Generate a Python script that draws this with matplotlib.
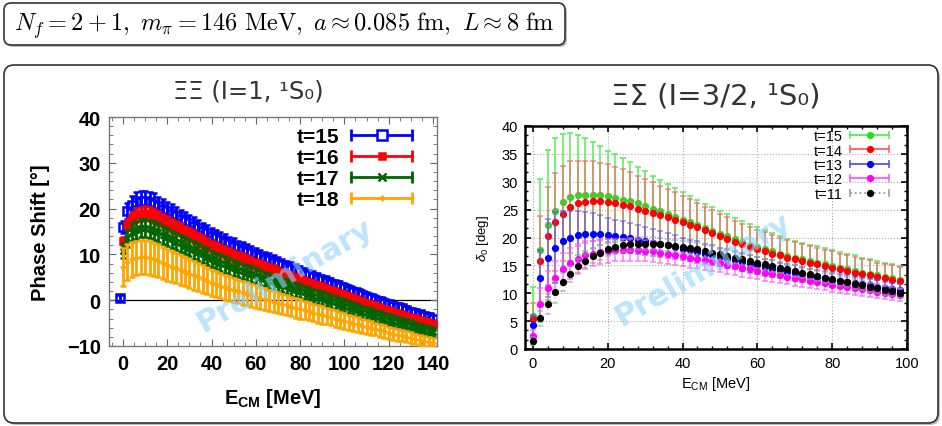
import matplotlib
matplotlib.use("Agg")
import matplotlib.pyplot as plt
from matplotlib.patches import FancyBboxPatch
from matplotlib.lines import Line2D
from matplotlib.legend_handler import HandlerLine2D
from matplotlib.ticker import MultipleLocator

plt.rcParams["mathtext.fontset"] = "custom"
plt.rcParams["mathtext.rm"] = "Liberation Sans"
plt.rcParams["mathtext.bf"] = "Liberation Sans:bold"
plt.rcParams["mathtext.it"] = "Liberation Sans:italic"

# ---------------- Xi-Xi (I=1) phase shifts ----------------
e_left = [0, 2, 4, 6, 8, 10, 12, 14, 16, 18,
          20, 22, 24, 26, 28, 30, 32, 34, 36, 38,
          40, 42, 44, 46, 48, 50, 52, 54, 56, 58,
          60, 62, 64, 66, 68, 70, 72, 74, 76, 78,
          80, 82, 84, 86, 88, 90, 92, 94, 96, 98,
          100, 102, 104, 106, 108, 110, 112, 114, 116, 118,
          120, 122, 124, 126, 128, 130, 132, 134, 136, 138,
          140]

# t=15 has one extra point just below threshold
t15_first_e, t15_first_d, t15_first_err = -1.4, 0.5, 0.6

t15_d = [16.0, 19.5, 20.8, 21.4, 21.7, 21.7, 21.4, 21.1, 20.5, 20.0,
         19.4, 18.9, 18.4, 17.8, 17.3, 16.8, 16.3, 15.7, 15.1, 14.6,
         14.0, 13.6, 13.1, 12.7, 12.2, 11.8, 11.4, 11.0, 10.6, 10.3,
         9.9, 9.5, 9.1, 8.7, 8.3, 8.0, 7.6, 7.2, 6.9, 6.5,
         6.1, 5.8, 5.4, 5.1, 4.7, 4.4, 4.0, 3.6, 3.3, 2.9,
         2.6, 2.2, 1.8, 1.5, 1.1, 0.8, 0.4, 0.1, -0.2, -0.6,
         -0.9, -1.2, -1.5, -1.8, -2.2, -2.5, -2.8, -3.1, -3.4, -3.7,
         -4.0]
t15_err = [1.3, 1.8, 2.0, 2.2, 2.2, 2.2, 2.2, 2.2, 2.1, 2.1,
           2.1, 2.0, 2.0, 2.0, 1.9, 1.9, 1.9, 1.9, 1.8, 1.8,
           1.8, 1.8, 1.7, 1.7, 1.7, 1.7, 1.6, 1.6, 1.6, 1.6,
           1.6, 1.5, 1.5, 1.5, 1.5, 1.4, 1.4, 1.4, 1.4, 1.4,
           1.3, 1.3, 1.3, 1.3, 1.3, 1.2, 1.2, 1.2, 1.2, 1.2,
           1.1, 1.1, 1.1, 1.1, 1.1, 1.0, 1.0, 1.0, 1.0, 1.0,
           0.9, 0.9, 0.9, 0.9, 0.9, 0.9, 0.8, 0.8, 0.8, 0.8,
           0.8]

t16_d = [13.0, 16.5, 17.9, 18.6, 18.9, 19.0, 18.8, 18.4, 17.9, 17.4,
         16.8, 16.3, 15.8, 15.4, 14.9, 14.4, 13.9, 13.3, 12.8, 12.2,
         11.7, 11.3, 10.9, 10.5, 10.1, 9.6, 9.3, 8.9, 8.6, 8.2,
         7.8, 7.5, 7.1, 6.7, 6.4, 6.0, 5.7, 5.3, 5.0, 4.6,
         4.3, 4.0, 3.6, 3.3, 2.9, 2.6, 2.3, 1.9, 1.6, 1.2,
         0.9, 0.6, 0.2, -0.1, -0.5, -0.8, -1.1, -1.4, -1.8, -2.1,
         -2.4, -2.7, -3.0, -3.3, -3.6, -3.8, -4.1, -4.4, -4.7, -5.0,
         -5.3]
t16_err = [0.9, 1.2, 1.4, 1.5, 1.5, 1.5, 1.5, 1.5, 1.5, 1.5,
           1.5, 1.4, 1.4, 1.4, 1.4, 1.4, 1.4, 1.4, 1.4, 1.3,
           1.3, 1.3, 1.3, 1.3, 1.3, 1.3, 1.3, 1.3, 1.2, 1.2,
           1.2, 1.2, 1.2, 1.2, 1.2, 1.2, 1.2, 1.1, 1.1, 1.1,
           1.1, 1.1, 1.1, 1.1, 1.1, 1.1, 1.0, 1.0, 1.0, 1.0,
           1.0, 1.0, 1.0, 1.0, 1.0, 0.9, 0.9, 0.9, 0.9, 0.9,
           0.9, 0.9, 0.9, 0.9, 0.8, 0.8, 0.8, 0.8, 0.8, 0.8,
           0.8]

t17_d = [10.8, 13.5, 14.8, 15.4, 15.7, 15.8, 15.6, 15.2, 14.8, 14.3,
         13.8, 13.3, 12.8, 12.4, 11.9, 11.5, 11.0, 10.5, 10.0, 9.5,
         9.0, 8.6, 8.2, 7.8, 7.4, 7.0, 6.7, 6.3, 6.0, 5.7,
         5.3, 5.0, 4.6, 4.3, 3.9, 3.6, 3.3, 3.0, 2.6, 2.3,
         2.0, 1.7, 1.4, 1.0, 0.7, 0.4, 0.1, -0.2, -0.5, -0.9,
         -1.2, -1.5, -1.8, -2.1, -2.5, -2.8, -3.1, -3.4, -3.7, -4.0,
         -4.3, -4.5, -4.8, -5.1, -5.4, -5.6, -5.9, -6.2, -6.5, -6.7,
         -7.0]
t17_err = [1.6, 1.9, 2.0, 2.0, 2.0, 2.0, 2.0, 2.0, 2.0, 2.0,
           2.0, 1.9, 1.9, 1.9, 1.9, 1.9, 1.9, 1.9, 1.8, 1.8,
           1.8, 1.8, 1.8, 1.8, 1.8, 1.7, 1.7, 1.7, 1.7, 1.7,
           1.7, 1.7, 1.6, 1.6, 1.6, 1.6, 1.6, 1.6, 1.6, 1.5,
           1.5, 1.5, 1.5, 1.5, 1.5, 1.5, 1.4, 1.4, 1.4, 1.4,
           1.4, 1.4, 1.4, 1.3, 1.3, 1.3, 1.3, 1.3, 1.3, 1.3,
           1.2, 1.2, 1.2, 1.2, 1.2, 1.2, 1.1, 1.1, 1.1, 1.1,
           1.1]

t18_d = [7.2, 8.4, 8.9, 9.2, 9.4, 9.4, 9.2, 8.9, 8.6, 8.2,
         7.7, 7.3, 7.0, 6.6, 6.2, 5.8, 5.4, 5.0, 4.6, 4.2,
         3.8, 3.5, 3.2, 2.8, 2.5, 2.2, 1.9, 1.6, 1.4, 1.1,
         0.8, 0.5, 0.2, 0.0, -0.3, -0.6, -0.9, -1.1, -1.4, -1.7,
         -1.9, -2.2, -2.4, -2.7, -3.0, -3.2, -3.5, -3.7, -4.0, -4.3,
         -4.5, -4.8, -5.1, -5.3, -5.6, -5.8, -6.1, -6.3, -6.6, -6.8,
         -7.1, -7.3, -7.5, -7.7, -8.0, -8.2, -8.4, -8.6, -8.9, -9.1,
         -9.3]
t18_err = [4.1, 3.9, 3.9, 3.8, 3.7, 3.7, 3.7, 3.6, 3.6, 3.5,
           3.5, 3.4, 3.3, 3.3, 3.2, 3.2, 3.1, 3.1, 3.0, 2.9,
           2.9, 2.8, 2.8, 2.8, 2.7, 2.7, 2.6, 2.6, 2.5, 2.5,
           2.5, 2.4, 2.4, 2.3, 2.3, 2.3, 2.2, 2.2, 2.1, 2.1,
           2.1, 2.0, 2.0, 1.9, 1.9, 1.9, 1.8, 1.8, 1.8, 1.7,
           1.7, 1.6, 1.6, 1.6, 1.5, 1.5, 1.5, 1.4, 1.4, 1.4,
           1.3, 1.3, 1.3, 1.2, 1.2, 1.2, 1.1, 1.1, 1.1, 1.0,
           1.0]

# ---------------- Xi-Sigma (I=3/2) phase shifts ----------------
e_right = [0, 2, 4, 6, 8, 10, 12, 14, 16, 18,
           20, 22, 24, 26, 28, 30, 32, 34, 36, 38,
           40, 42, 44, 46, 48, 50, 52, 54, 56, 58,
           60, 62, 64, 66, 68, 70, 72, 74, 76, 78,
           80, 82, 84, 86, 88, 90, 92, 94, 96, 98]

s15_d = [6.0, 17.7, 22.2, 24.8, 26.3, 27.2, 27.6, 27.7, 27.7, 27.6,
         27.4, 27.1, 26.8, 26.5, 26.1, 25.7, 25.2, 24.7, 24.2, 23.7,
         23.2, 22.7, 22.2, 21.7, 21.2, 20.7, 20.2, 19.7, 19.2, 18.7,
         18.3, 17.9, 17.5, 17.1, 16.7, 16.4, 16.1, 15.8, 15.5, 15.2,
         14.9, 14.6, 14.3, 14.0, 13.7, 13.4, 13.2, 12.9, 12.7, 12.4]
s15_err = [5.2, 12.8, 13.5, 13.0, 12.3, 11.5, 10.7, 10.1, 9.5, 8.9,
           8.2, 7.9, 7.4, 7.0, 6.6, 6.2, 5.9, 5.7, 5.4, 5.2,
           5.0, 4.8, 4.5, 4.3, 4.2, 4.1, 4.0, 3.8, 3.8, 3.7,
           3.5, 3.5, 3.3, 3.1, 3.1, 3.0, 3.0, 2.9, 2.9, 2.9,
           2.9, 2.8, 2.8, 2.8, 2.7, 2.7, 2.6, 2.6, 2.5, 2.5]

s14_d = [5.3, 15.8, 20.3, 22.8, 24.3, 25.5, 26.1, 26.4, 26.5, 26.5,
         26.4, 26.2, 25.9, 25.6, 25.2, 24.8, 24.4, 24.0, 23.6, 23.2,
         22.8, 22.3, 21.8, 21.3, 20.8, 20.2, 19.7, 19.2, 18.8, 18.3,
         17.9, 17.5, 17.1, 16.8, 16.4, 16.1, 15.8, 15.5, 15.2, 14.9,
         14.6, 14.3, 14.0, 13.7, 13.4, 13.2, 12.9, 12.7, 12.4, 12.2]
s14_err = [3.0, 8.1, 8.8, 8.8, 8.6, 8.2, 7.7, 7.4, 7.2, 6.9,
           6.7, 6.5, 6.3, 6.1, 5.9, 5.7, 5.5, 5.3, 5.1, 4.9,
           4.7, 4.6, 4.4, 4.2, 4.1, 4.0, 3.9, 3.8, 3.7, 3.6,
           3.5, 3.4, 3.3, 3.2, 3.2, 3.1, 3.1, 3.0, 3.0, 2.9,
           2.9, 2.8, 2.8, 2.8, 2.7, 2.7, 2.6, 2.6, 2.6, 2.5]

s13_d = [4.3, 12.8, 16.3, 18.2, 19.4, 20.0, 20.4, 20.6, 20.6, 20.6,
         20.5, 20.3, 20.1, 19.9, 19.6, 19.4, 19.1, 18.8, 18.6, 18.3,
         18.0, 17.7, 17.4, 17.1, 16.8, 16.5, 16.2, 15.9, 15.6, 15.3,
         15.0, 14.7, 14.4, 14.1, 13.9, 13.6, 13.4, 13.1, 12.9, 12.7,
         12.4, 12.2, 12.0, 11.8, 11.6, 11.4, 11.2, 11.0, 10.8, 10.6]
s13_err = [1.8, 5.0, 7.0, 6.3, 5.4, 4.8, 4.3, 4.0, 3.8, 3.4,
           3.0, 2.9, 2.8, 2.7, 2.6, 2.5, 2.4, 2.3, 2.2, 2.1,
           2.0, 1.9, 1.9, 1.8, 1.8, 1.7, 1.7, 1.6, 1.6, 1.6,
           1.5, 1.5, 1.5, 1.4, 1.4, 1.4, 1.3, 1.3, 1.3, 1.3,
           1.2, 1.2, 1.2, 1.2, 1.1, 1.1, 1.1, 1.1, 1.0, 1.0]

s12_d = [2.4, 8.1, 11.0, 12.8, 14.3, 15.4, 16.2, 16.8, 17.1, 17.4,
         17.6, 17.7, 17.8, 17.8, 17.7, 17.6, 17.5, 17.3, 17.1, 16.9,
         16.7, 16.4, 16.2, 15.9, 15.7, 15.4, 15.1, 14.8, 14.5, 14.3,
         14.0, 13.7, 13.5, 13.2, 13.0, 12.7, 12.5, 12.2, 12.0, 11.8,
         11.5, 11.3, 11.1, 10.9, 10.7, 10.5, 10.3, 10.1, 9.9, 9.7]
s12_err = [1.0, 2.8, 3.0, 3.0, 2.9, 2.8, 2.6, 2.5, 2.3, 2.2,
           2.1, 2.0, 2.0, 2.0, 2.0, 1.9, 1.9, 1.9, 1.9, 1.8,
           1.8, 1.8, 1.7, 1.7, 1.7, 1.6, 1.6, 1.6, 1.6, 1.5,
           1.5, 1.5, 1.5, 1.4, 1.4, 1.4, 1.4, 1.3, 1.3, 1.3,
           1.3, 1.3, 1.2, 1.2, 1.2, 1.2, 1.2, 1.2, 1.1, 1.1]

s11_d = [1.5, 5.5, 8.1, 10.2, 12.0, 13.4, 14.8, 15.8, 16.7, 17.3,
         17.9, 18.3, 18.6, 18.8, 18.9, 18.9, 18.9, 18.8, 18.6, 18.5,
         18.3, 18.1, 17.9, 17.6, 17.3, 17.0, 16.7, 16.4, 16.1, 15.8,
         15.5, 15.2, 14.9, 14.6, 14.3, 14.0, 13.7, 13.4, 13.1, 12.8,
         12.5, 12.2, 12.0, 11.7, 11.4, 11.1, 10.9, 10.6, 10.4, 10.0]
s11_err = [0.6, 1.3, 1.8, 2.0, 1.6, 1.4, 1.4, 1.3, 1.3, 1.3,
           1.2, 1.2, 1.2, 1.2, 1.2, 1.2, 1.2, 1.1, 1.1, 1.1,
           1.1, 1.1, 1.1, 1.1, 1.1, 1.0, 1.0, 1.0, 1.0, 1.0,
           1.0, 1.0, 1.0, 1.0, 1.0, 1.0, 0.9, 0.9, 0.9, 0.9,
           0.9, 0.9, 0.9, 0.9, 0.9, 0.9, 0.9, 0.9, 0.9, 0.9]

W, H = 9.42, 4.27
fig = plt.figure(figsize=(W, H), dpi=100)


def box(x0, y0, x1, y1, r):
    # rounded frame given in pixel corners (top-left origin)
    sh = FancyBboxPatch((x0 / 100 + 0.02, H - y1 / 100 - 0.02), (x1 - x0) / 100, (y1 - y0) / 100,
                        boxstyle=f"round,pad=0,rounding_size={r}", transform=fig.dpi_scale_trans,
                        fc="#bbbbbb", ec="none", zorder=-3)
    fr = FancyBboxPatch((x0 / 100, H - y1 / 100), (x1 - x0) / 100, (y1 - y0) / 100,
                        boxstyle=f"round,pad=0,rounding_size={r}", transform=fig.dpi_scale_trans,
                        fc="white", ec="#333333", lw=1.2, zorder=-2)
    fig.patches.extend([sh, fr])


box(4, 4, 565, 46, 0.07)
box(4, 66, 938, 424, 0.1)

fig.text(284 / 942, 1 - 26 / 427,
         r"$N_f = 2+1,\ m_\pi = 146\ \mathrm{MeV},\ a \approx 0.085\ \mathrm{fm},\ L \approx 8\ \mathrm{fm}$",
         math_fontfamily="cm", fontsize=17.5, ha="center", va="center")

# ---------------- left panel ----------------
ax1 = fig.add_axes([109 / 942, 1 - 347 / 427, 328 / 942, 229 / 427])
ax1.axhline(0, color="black", lw=0.9, zorder=1)

left_series = [
    ("t=15", [t15_first_e] + e_left, [t15_first_d] + t15_d, [t15_first_err] + t15_err,
     "#0000ff", "s", 6, "none"),
    ("t=16", e_left, t16_d, t16_err, "#ff0000", "s", 4.5, "#ff0000"),
    ("t=17", e_left, t17_d, t17_err, "#006400", "x", 5, "#006400"),
    ("t=18", e_left, t18_d, t18_err, "#ffa500", "+", 4, "#ffa500"),
]
handles, hmap = [], {}
for i, (lab, e, d, err, c, m, ms, mfc) in enumerate(left_series):
    ax1.errorbar(e, d, yerr=err, fmt=m, color=c, ms=ms, mfc=mfc, mew=1.8,
                 elinewidth=2.0, capsize=2.4, capthick=2.0, zorder=2 + i)
    caps = Line2D([], [], color=c, lw=2.0, marker="|", ms=8, mew=2.0)
    mk = Line2D([], [], color=c, ls="none", marker=m, ms=ms + 0.5,
                mfc="white" if mfc == "none" else mfc, mew=1.8)
    hmap[caps] = HandlerLine2D(numpoints=2)
    hmap[mk] = HandlerLine2D(numpoints=1)
    handles.append((caps, mk))

ax1.set_xlim(-6.3, 141.8)
ax1.set_ylim(-10, 40)
ax1.xaxis.set_major_locator(MultipleLocator(20))
ax1.xaxis.set_minor_locator(MultipleLocator(5))
ax1.yaxis.set_major_locator(MultipleLocator(10))
ax1.yaxis.set_minor_locator(MultipleLocator(2))
ax1.tick_params(which="both", direction="in", top=True, right=True, color="#666666")
ax1.tick_params(which="major", length=5, pad=6)
ax1.tick_params(which="minor", length=3)
for sp in ax1.spines.values():
    sp.set_color("#777777")
    sp.set_linewidth(1.0)
for lbl in ax1.get_xticklabels() + ax1.get_yticklabels():
    lbl.set_fontfamily("Liberation Sans")
    lbl.set_fontweight("bold")
    lbl.set_fontsize(14.5)
ax1.set_xlabel(r"$\mathbf{E}_{\mathbf{CM}}$ [MeV]", fontfamily="Liberation Sans",
               fontweight="bold", fontsize=14.5, labelpad=9)
ax1.set_ylabel("Phase Shift [°]", fontfamily="Liberation Sans", fontweight="bold",
               fontsize=14.5, labelpad=12)
ax1.set_title("ΞΞ (I=1, ¹S₀)", fontsize=17.5, color="#333333", pad=14, x=0.424)
leg1 = ax1.legend(handles, ["t=15", "t=16", "t=17", "t=18"], handler_map=hmap,
                  loc="upper right", bbox_to_anchor=(0.955, 0.975), borderaxespad=0,
                  frameon=False, markerfirst=False, handlelength=3.5, handletextpad=0.3,
                  labelspacing=0.1, borderpad=0.2,
                  prop={"family": "Liberation Sans", "weight": "bold", "size": 15})

# ---------------- right panel ----------------
ax2 = fig.add_axes([525 / 942, 1 - 350 / 427, 382 / 942, 223 / 427])
ax2.grid(True, which="major", color="#aaaaaa", ls=":", lw=0.8)
ax2.set_axisbelow(True)

right_series = [
    ("t=15", s15_d, s15_err, "#22dd22", "#55ee55", 1.0),
    ("t=14", s14_d, s14_err, "#ff0000", "#ff6060", 0.75),
    ("t=13", s13_d, s13_err, "#0000ff", "#5050ff", 0.65),
    ("t=12", s12_d, s12_err, "#ff00ff", "#ff55ff", 0.75),
    ("t=11", s11_d, s11_err, "#000000", "#999999", 0.6),
]
handles2, hmap2 = [], {}
for i, (lab, d, err, c, ec, a) in enumerate(right_series):
    ls = ":" if lab == "t=11" else "-"
    eb = ax2.errorbar(e_right, d, yerr=err, fmt="o", color=c, ecolor=ec, ms=4.2,
                      elinewidth=1.1, capsize=2.2, capthick=1.1, zorder=2 + i)
    for art in eb[1] + eb[2]:
        art.set_alpha(a)
    eb[2][0].set_linestyle(ls)
    caps = Line2D([], [], color=ec, lw=1.3, marker="|", ms=6, mew=1.1, ls=ls)
    mk = Line2D([], [], color=c, ls="none", marker="o", ms=4.2)
    hmap2[caps] = HandlerLine2D(numpoints=2)
    hmap2[mk] = HandlerLine2D(numpoints=1)
    handles2.append((caps, mk))

ax2.set_xlim(-2.1, 100)
ax2.set_ylim(0, 40)
ax2.xaxis.set_major_locator(MultipleLocator(20))
ax2.xaxis.set_minor_locator(MultipleLocator(4))
ax2.yaxis.set_major_locator(MultipleLocator(5))
ax2.yaxis.set_minor_locator(MultipleLocator(5 / 3))
ax2.tick_params(which="both", direction="in", top=True, right=True)
ax2.tick_params(which="major", length=4, width=1.2, pad=5, labelsize=10.5)
ax2.tick_params(which="minor", length=2, width=1.0)
for sp in ax2.spines.values():
    sp.set_linewidth(1.8)
for lbl in ax2.get_xticklabels() + ax2.get_yticklabels():
    lbl.set_fontfamily("Liberation Sans")
ax2.set_xlabel(r"$\mathrm{E}_{\mathrm{CM}}$ [MeV]", fontfamily="Liberation Sans",
               fontsize=10.5, labelpad=3)
ax2.set_ylabel(r"$\delta_0$ [deg]", fontfamily="Liberation Sans", fontsize=9.5, labelpad=8)
ax2.set_title("ΞΣ (I=3/2, ¹S₀)", fontsize=21, color="#333333", pad=16)
leg2 = ax2.legend(handles2, ["t=15", "t=14", "t=13", "t=12", "t=11"], handler_map=hmap2,
                  loc="upper right", bbox_to_anchor=(0.972, 0.999), borderaxespad=0,
                  frameon=False, markerfirst=False, handlelength=3.27, handletextpad=0.2,
                  labelspacing=0.03, borderpad=0.2,
                  prop={"family": "Liberation Sans", "size": 10.5})

# watermarks
fig.text(285 / 942, 1 - 276 / 427, "Preliminary", rotation=30, color="#8fd3ff", alpha=0.6,
         fontsize=22, fontweight="bold", ha="center", va="center", zorder=10)
fig.text(703 / 942, 1 - 270 / 427, "Preliminary", rotation=30, color="#8fd3ff", alpha=0.6,
         fontsize=22, fontweight="bold", ha="center", va="center", zorder=10)

fig.savefig("out.png", dpi=100)
